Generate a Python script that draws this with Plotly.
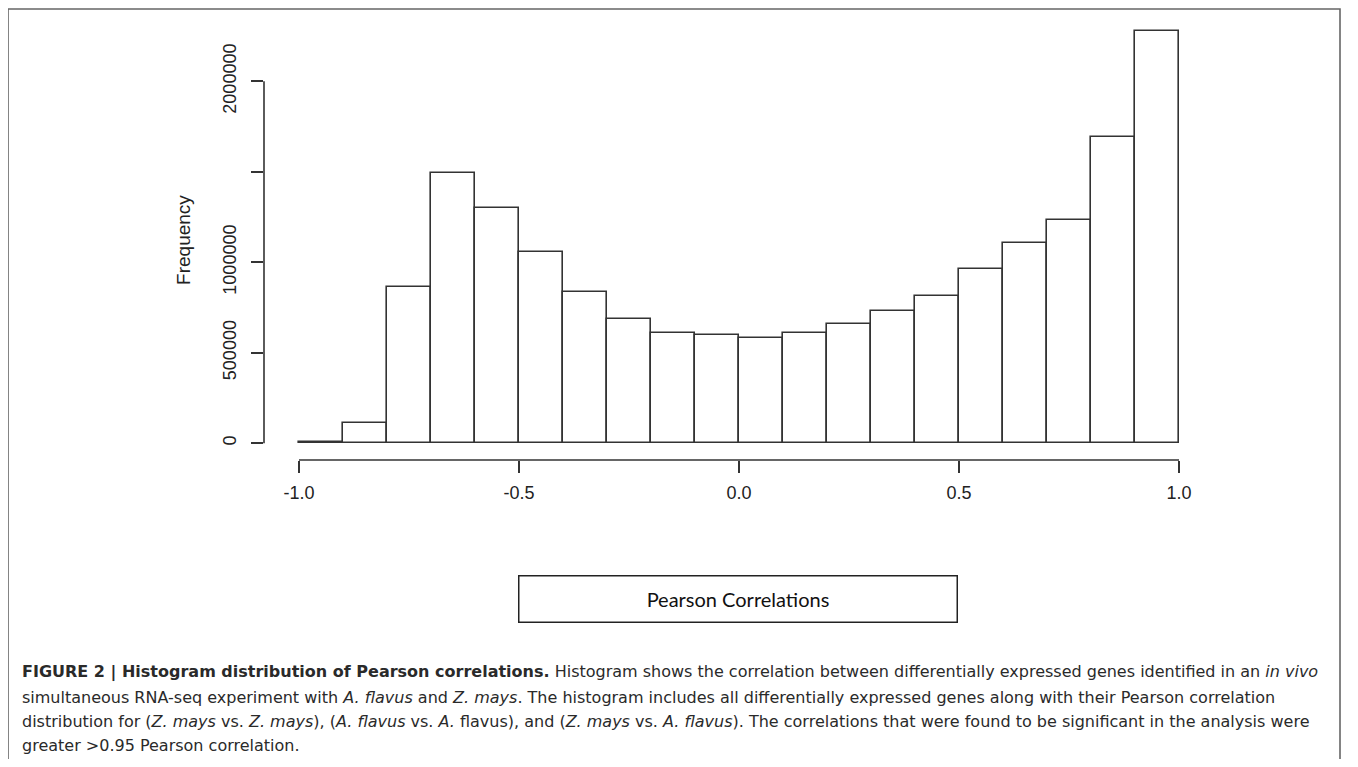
import plotly.graph_objects as go

# ---- data ----
bin_starts = [-1.0, -0.9, -0.8, -0.7, -0.6, -0.5, -0.4, -0.3, -0.2, -0.1,
              0.0, 0.1, 0.2, 0.3, 0.4, 0.5, 0.6, 0.7, 0.8, 0.9]
frequencies = [7000, 110000, 865000, 1492000, 1300000, 1057000, 834000, 687000,
               611000, 597000, 582000, 611000, 659000, 731000, 814000, 961000,
               1105000, 1232000, 1692000, 2276000]
bin_width = 0.1
x_tick_vals = [-1.0, -0.5, 0.0, 0.5, 1.0]
x_tick_text = ["-1.0", "-0.5", "0.0", "0.5", "1.0"]
y_tick_vals = [0, 500000, 1000000, 1500000, 2000000]
y_tick_text = ["0", "500000", "1000000", "", "2000000"]
y_label = "Frequency"
box_label = "Pearson Correlations"
caption_lines = [
    "<b>FIGURE 2 | Histogram distribution of Pearson correlations.</b> Histogram shows the correlation between differentially expressed genes identified in an <i>in vivo</i>",
    "simultaneous RNA-seq experiment with <i>A. flavus</i> and <i>Z. mays</i>. The histogram includes all differentially expressed genes along with their Pearson correlation",
    "distribution for (<i>Z. mays</i> vs. <i>Z. mays</i>), (<i>A. flavus</i> vs. <i>A.</i> flavus), and (<i>Z. mays</i> vs. <i>A. flavus</i>). The correlations that were found to be significant in the analysis were",
    "greater &gt;0.95 Pearson correlation.",
]

# ---- geometry (screen pixels; page body adds an 8px offset) ----
OFF = 8
W, H = 1348, 751
PL, PR, PT, PB = 264, 1190, 20, 460          # plot area, screen pixels
XM1_PX, XP1_PX = 299, 1179                   # pixel of x=-1 and x=1
Y0_PX, Y2M_PX = 443.3, 81.3                  # pixel of y=0 and y=2e6
ppx = (XP1_PX - XM1_PX) / 2.0
ppy = (Y0_PX - Y2M_PX) / 2000000.0
x_range = [-1 - (XM1_PX - PL) / ppx, -1 + (PR - XM1_PX) / ppx]
y_range = [-(PB - Y0_PX) / ppy, (Y0_PX - PT) / ppy]
pw, ph = PR - PL, PB - PT


def px2x(px):
    return (px - PL) / pw


def px2y(py):
    return (PB - py) / ph


line_col = "#333333"
font_fam = "Liberation Sans, Arial, sans-serif"

fig = go.Figure()
fig.add_trace(go.Bar(
    x=bin_starts, y=frequencies, width=bin_width, offset=0,
    marker=dict(color="white", line=dict(color=line_col, width=1.6)),
    showlegend=False, hoverinfo="skip",
))

fig.update_layout(
    width=W, height=H,
    margin=dict(l=PL - OFF, r=W - (PR - OFF), t=PT - OFF, b=H - (PB - OFF), pad=0),
    paper_bgcolor="white", plot_bgcolor="white",
    bargap=0,
    xaxis=dict(range=x_range, showgrid=False, zeroline=False, showline=False,
               tickmode="array", tickvals=x_tick_vals, ticktext=x_tick_text,
               ticks="outside", ticklen=12, tickwidth=1.5, tickcolor=line_col,
               ticklabelstandoff=4,
               tickfont=dict(family=font_fam, size=18, color="#222")),
    yaxis=dict(range=y_range, showgrid=False, zeroline=False, showline=False,
               tickmode="array", tickvals=y_tick_vals, ticktext=y_tick_text,
               ticks="outside", ticklen=12, tickwidth=1.5, tickcolor=line_col,
               tickangle=-90, ticklabelstandoff=8,
               tickfont=dict(family=font_fam, size=18, color="#222")),
    yaxis_title=dict(text=y_label, standoff=24,
                     font=dict(family=font_fam, size=19, color="#222")),
)

# R-style detached axis lines, drawn in data coordinates
fig.add_shape(type="line", xref="x", yref="paper", x0=x_tick_vals[0], x1=x_tick_vals[-1],
              y0=0, y1=0, line=dict(color=line_col, width=1.6))
fig.add_shape(type="line", xref="paper", yref="y", x0=0, x1=0,
              y0=y_tick_vals[0], y1=y_tick_vals[-1], line=dict(color=line_col, width=1.6))

# outer frame
fig.add_shape(type="rect", xref="paper", yref="paper",
              x0=px2x(8), x1=px2x(1340), y0=px2y(775), y1=px2y(9),
              line=dict(color="#666666", width=1.6), layer="below")

# boxed axis caption
fig.add_annotation(xref="paper", yref="paper", x=px2x(737.5), y=px2y(598.5),
                   text=box_label, showarrow=False, xanchor="center", yanchor="middle",
                   width=437, height=45, borderpad=0, bordercolor="#222", borderwidth=1.5,
                   font=dict(family="Lato, Noto Sans, sans-serif", size=20, color="#111"))

# figure caption
caption_y = [672, 697, 721, 745]
for txt, yy in zip(caption_lines, caption_y):
    fig.add_annotation(xref="paper", yref="paper", x=px2x(20), y=px2y(yy),
                       text=txt, showarrow=False, xanchor="left", yanchor="middle",
                       align="left",
                       font=dict(family="DejaVu Sans, sans-serif", size=16, color="#2a2a2a"))

fig.write_html("out.html")
